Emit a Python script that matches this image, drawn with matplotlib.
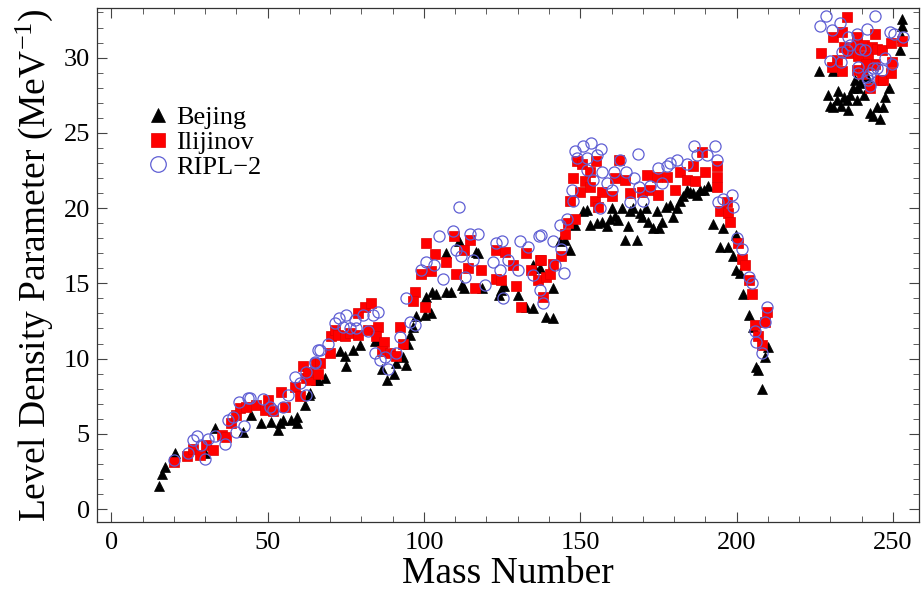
import matplotlib
matplotlib.use("Agg")
import matplotlib.pyplot as plt
from matplotlib.ticker import MultipleLocator

plt.rcParams['font.family'] = ['Liberation Serif', 'DejaVu Serif']
plt.rcParams['mathtext.fontset'] = 'custom'
plt.rcParams['mathtext.rm'] = 'Liberation Serif'
plt.rcParams['mathtext.it'] = 'Liberation Serif:italic'

# Bejing (black triangles)
bej_A = [15.2, 16.3, 17.3, 20.3, 30.1, 33.1, 42.2, 44.6, 47.8, 51.0, 53.2, 53.9, 55.0, 57.4, 59.4, 59.4,
         61.9, 63.3, 65.6, 63.5, 66.1, 68.3, 73.1, 74.7, 75.2, 77.3, 79.5, 84.3, 85.3, 86.5, 88.2, 90.4,
         91.2, 93.3, 94.2, 95.0, 95.7, 96.6, 97.6, 100.3, 102.1, 100.6, 102.7, 104.0, 107.0, 108.5, 107.2,
         111.2, 116.6, 117.3, 112.3, 112.9, 118.7, 124.8, 124.1, 125.6, 130.1, 132.8, 134.9, 134.9, 137.1,
         139.0, 141.3, 141.3, 143.5, 145.1, 146.7, 148.3, 150.9, 152.0, 153.1, 155.2, 156.8, 158.4, 159.5,
         160.0, 161.1, 162.1, 163.2, 164.3, 165.3, 165.9, 166.9, 168.2, 169.1, 169.9, 171.0, 171.7, 173.3,
         174.4, 175.2, 176.3, 177.4, 178.7, 179.7, 181.1, 181.9, 183.0, 184.0, 185.1, 186.1, 187.2, 188.3,
         189.5, 190.9, 192.5, 194.7, 195.5, 197.3, 198.9, 199.8, 199.8, 201.0, 202.1, 204.0, 205.3, 206.2,
         206.9, 208.0, 209.1, 210.1,
         226.3, 230.9, 229.1, 229.8, 230.9, 232.0, 232.5, 233.4, 234.4, 235.2, 235.7, 236.2, 237.3, 237.8,
         238.4, 238.9, 239.4, 240.8, 241.6, 242.6, 243.7, 244.8, 245.8, 246.9, 247.4, 248.7, 252.2, 252.8,
         253.0, 253.0]
bej_a = [1.55, 2.3, 2.8, 3.7, 3.7, 5.4, 5.1, 6.25, 5.7, 5.8, 5.25, 5.75, 5.9, 5.95, 6.1, 5.75,
         6.9, 7.6, 8.6, 7.7, 8.6, 8.7, 10.5, 10.2, 9.5, 10.6, 10.9, 11.2, 11.4, 9.3, 8.6, 9.0,
         9.7, 10.1, 9.6, 11.0, 11.6, 12.1, 12.8, 12.9, 13.0, 14.1, 14.45, 14.3, 14.45, 14.45, 17.0,
         17.8, 17.1, 17.0, 14.9, 14.7, 14.7, 14.55, 14.2, 14.8, 14.2, 13.45, 13.35, 16.2, 16.0,
         12.75, 12.7, 14.7, 17.8, 17.9, 17.2, 18.9, 19.8, 19.9, 18.9, 19.0, 19.1, 18.8, 19.3,
         20.0, 19.5, 19.2, 20.0, 17.9, 18.8, 19.8, 20.0, 17.9, 19.7, 19.4, 20.0, 19.1, 18.7,
         19.8, 18.7, 19.1, 20.1, 20.2, 19.4, 20.0, 20.5, 20.8, 21.2, 21.1, 21.0, 20.9, 21.2,
         21.2, 21.5, 18.95, 17.4, 18.7, 17.4, 16.8, 18.2, 15.9, 15.7, 14.3, 12.9, 12.1, 9.45,
         9.25, 8.0, 10.1, 10.8,
         29.1, 29.1, 27.5, 26.8, 26.75, 27.2, 27.75, 26.8, 27.4, 27.2, 26.5, 27.5, 28.0, 28.5,
         27.2, 28.0, 28.3, 27.5, 28.7, 26.3, 26.1, 26.75, 25.9, 26.7, 27.4, 28.0, 30.5, 31.4,
         32.1, 32.6]

# Ilijinov (red squares)
ili_A = [20.0, 24.3, 26.2, 28.3, 30.2, 32.6, 35.3, 36.6, 38.4, 40.0, 41.1, 43.2, 46.4, 49.1, 50.2, 51.8,
         54.4, 55.5, 58.7, 60.3, 61.2, 62.4, 63.5, 65.6, 63.0, 66.2, 66.7, 69.9, 70.4, 71.5, 72.6, 74.7,
         76.3, 79.0, 79.0, 81.1, 83.2, 82.2, 85.3, 84.8, 87.2, 86.5, 89.1, 91.2, 92.3, 93.3, 97.1, 96.5,
         100.3, 100.6, 103.5, 99.2, 102.4, 107.2, 109.6, 112.8, 114.7, 110.4, 114.1, 116.3, 118.4, 123.2,
         125.9, 123.2, 124.8, 128.5, 129.4, 131.2, 132.8, 134.4, 137.1, 136.5, 139.2,
         137.6, 138.1, 141.3, 140.3, 144.0, 145.1, 146.1, 148.3, 146.7, 147.7, 148.8, 150.4, 153.1, 155.0,
         151.5, 153.1, 149.9, 154.7, 155.7, 156.8, 160.0, 161.1, 162.5, 164.3, 165.9, 169.6, 171.2, 172.3,
         174.4, 174.9, 177.6, 180.3, 181.9, 184.0, 186.1, 186.6, 188.8, 189.9, 193.6, 193.6, 193.6, 194.7,
         196.8, 197.3, 197.8, 200.5, 201.6, 202.7, 204.0, 204.8, 205.8, 206.8, 208.0, 209.1, 209.8,
         235.2, 227.0, 230.9, 233.6, 232.0, 233.8, 230.4, 234.4, 235.7, 238.4, 237.8, 238.9, 240.8, 242.1,
         243.2, 244.2, 244.8, 246.4, 244.2, 245.8, 246.9, 249.3, 249.7, 249.5, 252.8, 238.4, 240.0, 242.6,
         243.7, 241.4]
ili_a = [3.15, 3.5, 4.0, 3.6, 4.25, 3.9, 4.9, 4.8, 5.7, 6.25, 6.7, 6.8, 6.9, 6.6, 7.25, 6.5,
         7.8, 6.8, 8.1, 7.5, 9.5, 8.7, 8.6, 9.7, 9.1, 9.0, 9.7, 10.35, 11.5, 11.9, 11.6, 11.5,
         11.7, 11.6, 13.0, 13.45, 13.7, 11.9, 12.1, 11.5, 11.1, 10.5, 10.4, 10.2, 12.1, 11.0, 14.4, 13.8,
         13.45, 17.7, 16.95, 15.6, 15.8, 16.45, 18.15, 17.2, 17.9, 15.6, 16.0, 14.7, 15.9, 17.2,
         17.1, 15.3, 15.2, 16.2, 14.8, 13.4, 17.05, 15.9, 16.55, 15.2, 15.45,
         16.55, 14.1, 16.3, 15.6, 16.8, 18.3, 19.0, 19.3, 20.5, 22.0, 23.1, 22.9, 22.4, 23.1,
         21.8, 21.4, 21.1, 20.5, 20.1, 21.1, 20.8, 22.0, 23.2, 21.9, 21.0, 21.1, 22.2, 21.2,
         22.1, 20.9, 22.1, 21.2, 22.4, 21.9, 22.8, 21.8, 23.7, 22.4, 22.8, 22.1, 21.4, 19.8,
         20.4, 19.7, 19.1, 17.7, 16.6, 16.2, 15.2, 14.3, 12.2, 11.5, 10.9, 12.4, 13.1,
         32.7, 30.3, 31.4, 31.7, 29.85, 29.1, 29.4, 30.7, 30.3, 31.4, 30.7, 30.1, 30.85, 30.1,
         30.7, 31.6, 30.6, 30.5, 29.6, 28.5, 28.5, 31.0, 29.7, 29.0, 31.1, 29.2, 28.9, 28.0,
         29.5, 29.6]

# RIPL-2 (open blue circles)
ripl_A = [20.0, 24.6, 26.0, 27.4, 28.6, 29.9, 31.0, 33.1, 36.3, 37.4, 39.0, 40.0, 40.9, 42.4, 43.6, 44.5,
          48.4, 50.7, 51.8, 55.0, 56.6, 58.7, 60.3, 62.4, 65.1, 66.2,
          62.4, 65.1, 66.9, 69.4, 71.5, 72.9, 74.2, 75.2, 76.3, 77.9, 78.4, 80.6, 82.2, 83.7, 85.3, 84.3,
          85.9, 87.5, 88.5, 91.2, 92.3, 94.4, 95.5, 97.1, 99.2, 100.6, 103.2, 104.9, 106.1, 109.3, 111.2,
          110.4, 112.0, 114.7, 117.3, 113.1, 115.7, 119.5, 122.1, 123.2, 125.1, 124.3, 125.3, 126.9, 130.7,
          130.1, 133.3, 134.9, 136.9, 137.1, 138.1,
          137.6, 141.3, 142.0, 144.0, 144.8, 143.5, 145.6, 147.2, 147.7, 148.3, 148.8, 150.9, 153.3, 152.0,
          155.2, 156.5, 156.8, 152.0, 154.1, 156.3, 158.4, 160.0, 160.8, 162.7, 164.6, 165.9, 167.2, 168.5,
          168.8, 170.1, 172.3, 174.9, 176.0, 177.6, 178.7, 181.0, 184.0, 186.4, 187.2, 190.4, 193.1, 193.6,
          194.1, 195.7, 198.4, 198.7, 200.0, 201.6, 204.0, 204.8, 205.8, 206.3, 208.0, 209.1, 209.6,
          228.5, 226.7, 230.4, 233.0, 235.5, 238.4, 241.6, 244.2, 249.1, 250.4, 253.3, 229.9, 233.4, 233.6,
          235.2, 236.2, 239.4, 241.0, 238.9, 238.9, 241.6, 242.6, 243.7, 244.8, 246.4, 247.4, 249.7, 242.6,
          242.1]
ripl_a = [3.25, 3.7, 4.6, 4.85, 4.25, 3.35, 4.65, 4.85, 4.35, 5.9, 6.1, 5.15, 7.1, 5.5, 7.4, 7.35,
          7.3, 6.8, 6.6, 6.75, 7.6, 8.8, 8.35, 7.6, 9.7, 10.55,
          9.1, 9.8, 10.55, 11.0, 12.35, 12.7, 12.1, 12.9, 12.0, 12.55, 12.0, 12.9, 11.8, 12.9, 13.1, 10.4,
          9.9, 10.1, 9.3, 10.35, 11.45, 14.0, 12.45, 12.2, 15.9, 16.4, 16.2, 18.15, 15.3, 18.5, 20.1,
          17.2, 16.8, 18.3, 18.3, 15.45, 16.55, 14.9, 16.45, 17.7, 17.8, 15.9, 14.0, 16.55, 17.8,
          15.9, 17.4, 15.55, 18.15, 14.55, 13.7,
          18.2, 17.8, 16.2, 17.3, 15.7, 18.9, 19.3, 21.2, 20.5, 23.8, 23.3, 24.1, 24.3, 23.3,
          23.5, 23.9, 22.4, 22.5, 21.9, 20.0, 21.65, 21.2, 22.4, 23.2, 22.4, 20.4, 22.0, 23.6,
          21.4, 20.5, 21.5, 22.65, 21.65, 22.8, 23.0, 23.2, 22.9, 24.1, 23.5, 23.5, 24.1, 23.2,
          20.4, 20.6, 20.9, 20.1, 18.0, 17.3, 15.45, 15.05, 11.8, 11.1, 10.35, 12.45, 13.45,
          32.8, 32.1, 31.85, 32.3, 31.35, 31.6, 31.9, 32.8, 31.7, 31.6, 31.4, 29.8, 29.7, 30.4,
          30.5, 30.85, 30.6, 30.5, 29.4, 29.0, 28.7, 29.0, 29.3, 29.3, 29.2, 30.0, 29.6, 28.1,
          28.5]

series_labels = ["Bejing", "Ilijinov", "RIPL\u22122"]
x_ticks = [0, 50, 100, 150, 200, 250]
y_ticks = [0, 5, 10, 15, 20, 25, 30]

fig = plt.figure(figsize=(9.23, 6.0), dpi=100)
ax = fig.add_axes([0.105, 0.13, 0.8905, 0.8567])

ax.plot(bej_A, bej_a, linestyle='none', marker='^', markersize=7.5, color='black',
        markeredgewidth=0.5, label=series_labels[0])
ax.plot(ili_A, ili_a, linestyle='none', marker='s', markersize=6.8, color='#ff0000',
        markeredgecolor='#e00000', markeredgewidth=0.5, label=series_labels[1])
ax.plot(ripl_A, ripl_a, linestyle='none', marker='o', markersize=8.0, markerfacecolor='none',
        markeredgecolor='#5f5fd4', markeredgewidth=0.9, label=series_labels[2])

ax.set_xlim(-4.6, 258.3)
ax.set_ylim(-0.86, 33.3)
ax.set_xticks(x_ticks)
ax.set_yticks(y_ticks)
ax.xaxis.set_minor_locator(MultipleLocator(10))
ax.yaxis.set_minor_locator(MultipleLocator(1))
ax.tick_params(which='both', direction='in', top=True, right=True, labelsize=19, color='#444444')
ax.tick_params(which='major', length=7, width=0.8)
ax.tick_params(which='minor', length=4, width=0.6)
ax.tick_params(axis='x', pad=7)
ax.tick_params(axis='y', pad=5)
for sp in ax.spines.values():
    sp.set_linewidth(0.9)
    sp.set_color('#333333')

ax.set_xlabel("Mass Number", fontsize=27, labelpad=2)
ax.set_ylabel("Level Density Parameter (MeV$^{\u22121}$)", fontsize=27, labelpad=6)

leg = ax.legend(loc='upper left', bbox_to_anchor=(0.04, 0.846), frameon=False, fontsize=19,
                handlelength=0.7, handletextpad=0.35, labelspacing=0.05, borderpad=0.2,
                markerscale=1.4)

fig.savefig("out.png", dpi=100)
